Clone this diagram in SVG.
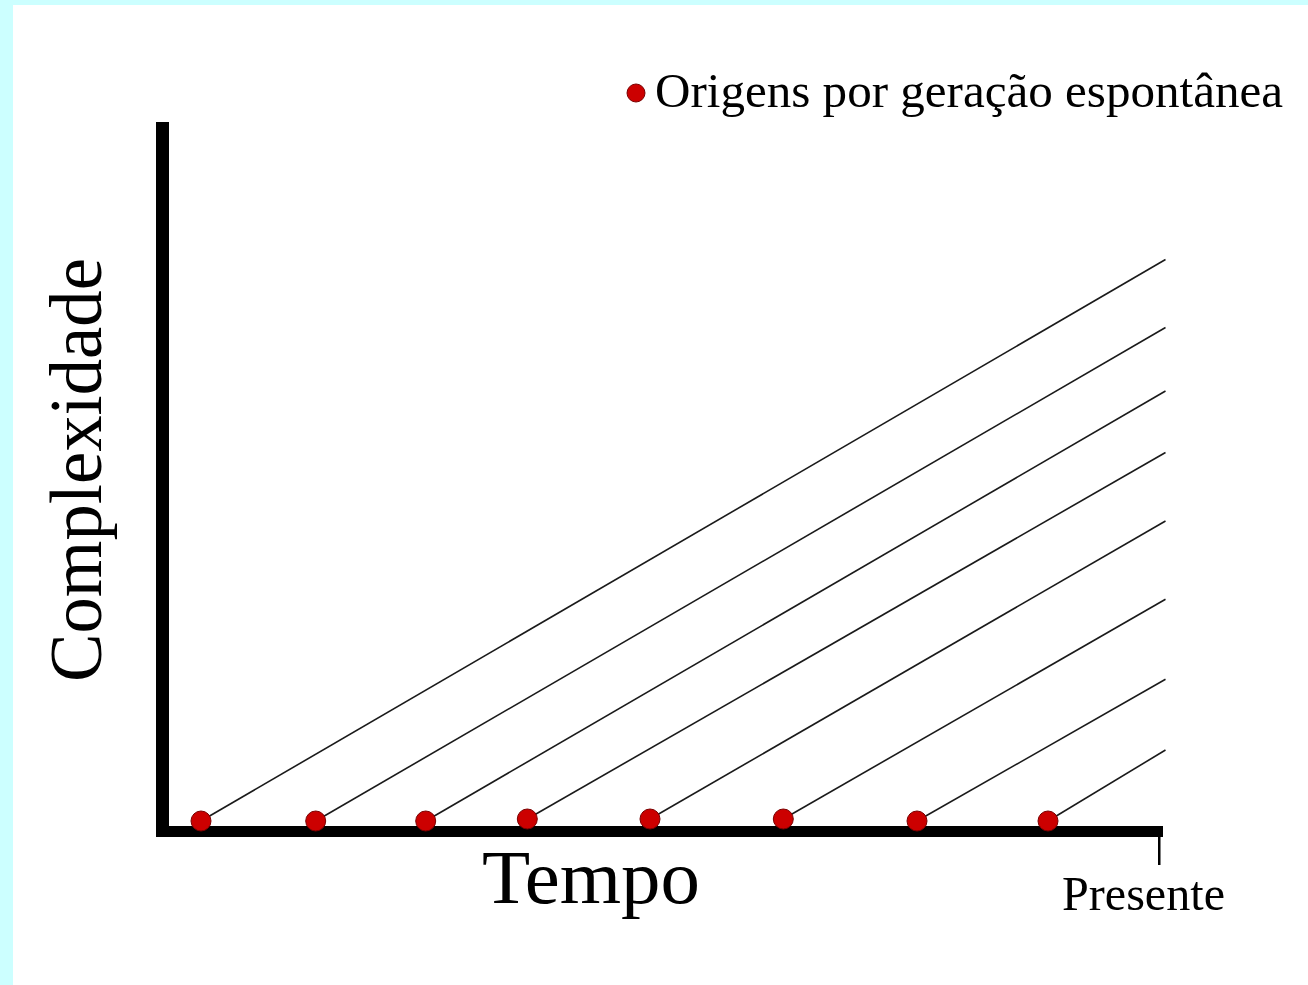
<svg xmlns="http://www.w3.org/2000/svg" width="1308" height="985" viewBox="0 0 1308 985">
<style>
.serif{font-family:"Liberation Serif","Times New Roman",serif;fill:#000}
.line{stroke:#1a1a1a;stroke-width:1.6;fill:none}
.dot{fill:#cc0000;stroke:#7a0000;stroke-width:1}
</style>
<rect x="0" y="0" width="1308" height="985" fill="#ccffff"/>
<rect x="13" y="5" width="1295" height="980" fill="#ffffff"/>
<g id="legend">
<circle class="dot" cx="636" cy="93" r="9"/>
<text class="serif" x="655" y="107" font-size="48" textLength="628" lengthAdjust="spacingAndGlyphs">Origens por geração espontânea</text>
</g>
<g id="axes">
<rect x="156" y="122" width="13" height="715" fill="#000"/>
<rect x="156" y="826" width="1007" height="11" fill="#000"/>
<rect x="1158" y="837" width="2.5" height="28" fill="#000"/>
</g>
<g id="labels">
<text class="serif" x="0" y="0" font-size="74" transform="translate(101,682) rotate(-90)" textLength="424" lengthAdjust="spacingAndGlyphs">Complexidade</text>
<text class="serif" x="482" y="903" font-size="76" textLength="218" lengthAdjust="spacingAndGlyphs">Tempo</text>
<text class="serif" x="1062" y="910" font-size="48" textLength="163" lengthAdjust="spacingAndGlyphs">Presente</text>
</g>
<g id="connectors">
<line class="line" x1="201" y1="821" x2="1165.5" y2="259.5"/>
<line class="line" x1="315.7" y1="821" x2="1165.5" y2="327.5"/>
<line class="line" x1="425.7" y1="821" x2="1165.5" y2="391"/>
<line class="line" x1="527.3" y1="819" x2="1165.5" y2="452.5"/>
<line class="line" x1="650" y1="819" x2="1165.5" y2="521"/>
<line class="line" x1="783.3" y1="819" x2="1165.5" y2="599.3"/>
<line class="line" x1="917" y1="821" x2="1165.5" y2="679.3"/>
<line class="line" x1="1048" y1="821" x2="1165.5" y2="750"/>
</g>
<g id="origins">
<circle class="dot" cx="201" cy="821" r="10"/>
<circle class="dot" cx="315.7" cy="821" r="10"/>
<circle class="dot" cx="425.7" cy="821" r="10"/>
<circle class="dot" cx="527.3" cy="819" r="10"/>
<circle class="dot" cx="650" cy="819" r="10"/>
<circle class="dot" cx="783.3" cy="819" r="10"/>
<circle class="dot" cx="917" cy="821" r="10"/>
<circle class="dot" cx="1048" cy="821" r="10"/>
</g>
</svg>
